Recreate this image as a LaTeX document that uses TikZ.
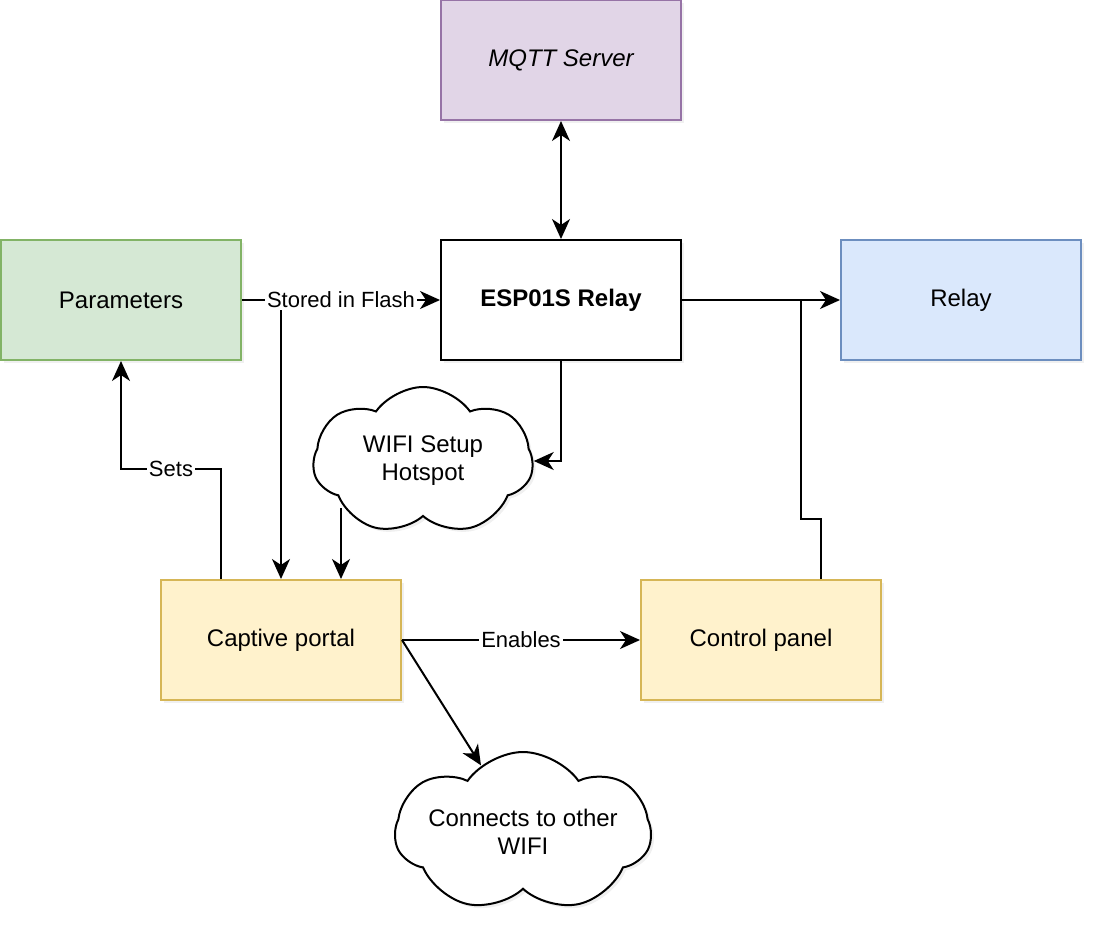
\documentclass[tikz,border=0pt]{standalone}
\usepackage{fontspec}
\setmainfont{Liberation Sans}
\usetikzlibrary{shapes.symbols,arrows.meta,shadows}
\definecolor{grfill}{HTML}{D5E8D4}\definecolor{grline}{HTML}{82B366}
\definecolor{blfill}{HTML}{DAE8FC}\definecolor{blline}{HTML}{6C8EBF}
\definecolor{yefill}{HTML}{FFF2CC}\definecolor{yeline}{HTML}{D6B656}
\definecolor{pufill}{HTML}{E1D5E7}\definecolor{puline}{HTML}{9673A6}
\begin{document}
\begin{tikzpicture}[x=0.5pt,y=-0.5pt,
  shad/.style={drop shadow={opacity=0.12, shadow xshift=1.5pt, shadow yshift=-1.5pt}},
  box/.style={draw, line width=1pt, minimum width=120pt, minimum height=60pt, inner sep=0pt,
    font=\fontsize{12}{14.4}\selectfont, shad},
  yel/.style={fill=yefill, draw=yeline},
  cloudn/.style={cloud, cloud puffs=7, cloud puff arc=110, cloud ignores aspect, draw, fill=white, line width=1pt,
    align=center, inner sep=0pt, font=\fontsize{12}{14}\selectfont, shad},
  tip/.tip={Stealth[length=10pt,width=9pt,inset=3pt]},
  arr/.style={line width=1pt, -tip},
  dbl/.style={line width=1pt, tip-tip},
  plain/.style={line width=1pt},
  lbl/.style={fill=white, inner sep=1pt, font=\fontsize{11}{13}\selectfont}]
\useasboundingbox (0,0) rectangle (1104,944);
\node[box, fill=pufill, draw=puline, font=\fontsize{12}{14.4}\selectfont\itshape] (mqtt) at (561,60) {MQTT Server};
\node[box, fill=white] (esp) at (561,300) {\textbf{ESP01S Relay}};
\node[box, fill=grfill, draw=grline] (par) at (121,300) {Parameters};
\node[box, fill=blfill, draw=blline] (rel) at (961,300) {Relay};
\node[box, yel] (cap) at (281,640) {Captive portal};
\node[box, yel] (cp) at (761,640) {Control panel};
\node[cloudn, minimum width=110pt, minimum height=74pt] (wifi) at (423,461) {WIFI Setup\\Hotspot};
\node[cloudn, minimum width=128pt, minimum height=80pt] (con) at (523,832) {Connects to other\\WIFI};
\coordinate (sf) at (281,300);
\coordinate (w1) at (341,508);
\coordinate (j) at (801,300);
\draw[dbl] (mqtt) -- (esp);
\draw[arr] (sf) -- (sf |- cap.north);
\draw[arr] (par) -- node[lbl]{Stored in Flash} (esp);
\draw[plain] ([xshift=30pt]cp.north) -- ++(0,-60) -- ++(-20,0) -- (j);
\draw[arr] (esp) -- (rel);
\draw[arr] (esp.south) |- (wifi);
\draw[arr] (w1) -- (w1 |- cap.north);
\draw[arr] ([xshift=-30pt]cap.north) -- ++(0,-110) -| node[lbl,pos=0.25]{Sets} (par.south);
\draw[arr] (cap) -- node[lbl]{Enables} (cp);
\draw[arr] (cap.east) -- (con);
\end{tikzpicture}
\end{document}
